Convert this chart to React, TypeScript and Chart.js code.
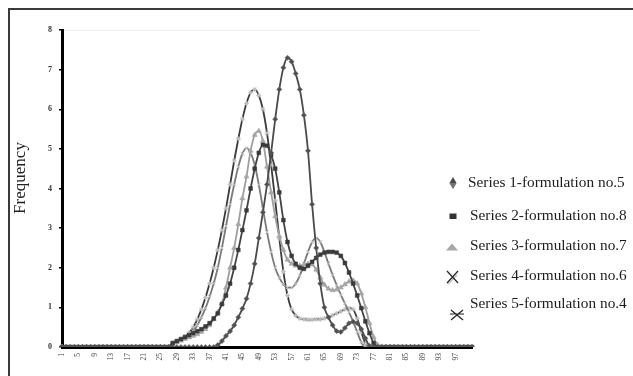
import React, { useEffect, useRef } from 'react';
import { Chart, registerables } from 'chart.js';

Chart.register(...registerables);

// Category labels 1..101 (ticks shown every 4th: 1, 5, 9, ... 97)
const categories: string[] = [
  '1','2','3','4','5','6','7','8','9','10','11','12','13','14','15','16','17','18','19','20',
  '21','22','23','24','25','26','27','28','29','30','31','32','33','34','35','36','37','38','39','40',
  '41','42','43','44','45','46','47','48','49','50','51','52','53','54','55','56','57','58','59','60',
  '61','62','63','64','65','66','67','68','69','70','71','72','73','74','75','76','77','78','79','80',
  '81','82','83','84','85','86','87','88','89','90','91','92','93','94','95','96','97','98','99','100','101',
];

const xTickLabels = ['1','5','9','13','17','21','25','29','33','37','41','45','49','53','57','61','65','69','73','77','81','85','89','93','97'];

const yTicks = [0, 1, 2, 3, 4, 5, 6, 7, 8];

const yAxisTitle = 'Frequency';

// Series values, one per category (1..101)
const series1: number[] = [
  0,0,0,0,0,0,0,0,0,0, 0,0,0,0,0,0,0,0,0,0, // 1-20
  0,0,0,0,0,0,0,0,0,0, 0,0,0,0,0,0,0,0,     // 21-38
  0.05,0.15,0.28,0.4,0.55,0.75,0.97,1.22,1.6,2.1,          // 39-48
  2.75,3.4,4.1,4.9,5.75,6.5,7.05,7.3,7.2,6.9,              // 49-58
  6.5,5.85,4.95,3.6,2.5,1.6,1.0,0.75,0.55,0.4,             // 59-68
  0.38,0.48,0.6,0.64,0.6,0.45,0.22,0.03,0,0,               // 69-78
  0,0,0,0,0,0,0,0,0,0, 0,0,0,0,0,0,0,0,0,0, 0,0,0,          // 79-101
];

const series2: number[] = [
  0,0,0,0,0,0,0,0,0,0, 0,0,0,0,0,0,0,0,0,0, 0,0,0,0,0,0,0, // 1-27
  0.1,0.15,0.2,0.25,0.3,0.35,0.4,0.45,0.52,0.6,            // 28-37
  0.72,0.85,1.08,1.3,1.6,2.0,2.45,2.95,3.45,4.0,           // 38-47
  4.5,4.9,5.1,5.08,4.85,4.5,3.9,3.2,2.65,2.3,              // 48-57
  2.1,2.0,1.97,2.05,2.15,2.25,2.33,2.38,2.4,2.4,           // 58-67
  2.38,2.3,2.12,1.88,1.6,1.3,0.98,0.65,0.35,0.1,           // 68-77
  0,0,0,0,0,0,0,0,0,0, 0,0,0,0,0,0,0,0,0,0, 0,0,0,0,       // 78-101
];

const series3: number[] = [
  0,0,0,0,0,0,0,0,0,0, 0,0,0,0,0,0,0,0,0,0, 0,0,0,0,0,0,0, // 1-27
  0.08,0.12,0.16,0.2,0.24,0.28,0.32,0.38,0.45,0.55,        // 28-37
  0.7,0.88,1.1,1.5,2.0,2.5,3.1,3.75,4.3,4.95,              // 38-47
  5.35,5.45,5.2,4.55,3.9,3.3,2.8,2.45,2.2,2.1,             // 48-57
  2.05,2.05,2.08,2.1,2.08,1.95,1.75,1.57,1.47,1.43,        // 58-67
  1.45,1.5,1.58,1.65,1.68,1.6,1.35,1.0,0.6,0.25,           // 68-77
  0.05,0,0,0,0,0,0,0,0,0, 0,0,0,0,0,0,0,0,0,0, 0,0,0,0,    // 78-101
];

const series4: number[] = [
  0,0,0,0,0,0,0,0,0,0, 0,0,0,0,0,0,0,0,0,0, 0,0,0,0,0,0,0, // 1-27
  0.1,0.14,0.19,0.25,0.32,0.4,0.55,0.75,0.98,1.27,         // 28-37
  1.6,2.0,2.5,3.05,3.6,4.1,4.55,4.88,5.02,4.9,             // 38-47
  4.6,4.1,3.5,2.9,2.4,2.0,1.75,1.58,1.5,1.5,               // 48-57
  1.6,1.8,2.1,2.4,2.65,2.75,2.65,2.4,2.1,1.82,             // 58-67
  1.56,1.32,1.1,0.88,0.64,0.38,0.12,0,0,0,                 // 68-77
  0,0,0,0,0,0,0,0,0,0, 0,0,0,0,0,0,0,0,0,0, 0,0,0,0,       // 78-101
];

const series5: number[] = [
  0,0,0,0,0,0,0,0,0,0, 0,0,0,0,0,0,0,0,0,0, 0,0,0,0,0,0,0, // 1-27
  0.1,0.15,0.2,0.27,0.36,0.5,0.7,0.95,1.25,1.6,            // 28-37
  2.0,2.45,2.95,3.5,4.1,4.7,5.25,5.75,6.15,6.42,           // 38-47
  6.5,6.35,6.0,5.4,4.6,3.7,2.75,1.9,1.3,0.95,              // 48-57
  0.8,0.72,0.7,0.69,0.69,0.7,0.7,0.72,0.75,0.8,            // 58-67
  0.85,0.9,0.95,0.98,0.95,0.72,0.38,0.08,0,0,              // 68-77
  0,0,0,0,0,0,0,0,0,0, 0,0,0,0,0,0,0,0,0,0, 0,0,0,0,       // 78-101
];

const seriesLabels = [
  'Series 1-formulation no.5',
  'Series 2-formulation no.8',
  'Series 3-formulation no.7',
  'Series 4-formulation no.6',
  'Series 5-formulation no.4',
];

const SERIF = '"Liberation Serif", "Times New Roman", serif';

function drawLegendMarker(ctx: CanvasRenderingContext2D, kind: number, x: number, y: number) {
  ctx.save();
  if (kind === 0) {
    ctx.fillStyle = '#4a4a4a';
    ctx.beginPath();
    ctx.moveTo(x, y - 6);
    ctx.lineTo(x + 3.5, y);
    ctx.lineTo(x, y + 6);
    ctx.lineTo(x - 3.5, y);
    ctx.closePath();
    ctx.fill();
    ctx.fillStyle = '#9a9a9a';
    ctx.beginPath();
    ctx.moveTo(x - 3.5, y);
    ctx.lineTo(x + 3.5, y);
    ctx.lineTo(x, y + 6);
    ctx.closePath();
    ctx.globalAlpha = 0.5;
    ctx.fill();
  } else if (kind === 1) {
    ctx.fillStyle = '#333';
    ctx.fillRect(x - 3.5, y - 2.5, 7, 5.5);
  } else if (kind === 2) {
    ctx.fillStyle = '#a8a8a8';
    ctx.beginPath();
    ctx.moveTo(x - 6, y + 3.5);
    ctx.lineTo(x, y - 3.5);
    ctx.lineTo(x + 6, y + 3.5);
    ctx.closePath();
    ctx.fill();
  } else if (kind === 3) {
    ctx.strokeStyle = '#bbb';
    ctx.lineWidth = 1.2;
    ctx.beginPath();
    ctx.moveTo(x - 4, y + 7);
    ctx.lineTo(x + 5, y - 2);
    ctx.stroke();
    ctx.strokeStyle = '#222';
    ctx.beginPath();
    ctx.moveTo(x - 5, y - 6);
    ctx.lineTo(x + 6, y + 6);
    ctx.moveTo(x - 5, y + 6);
    ctx.lineTo(x + 6, y - 6);
    ctx.stroke();
  } else {
    ctx.strokeStyle = '#222';
    ctx.lineWidth = 1.2;
    ctx.beginPath();
    ctx.moveTo(x - 6, y - 5);
    ctx.lineTo(x + 6, y + 5);
    ctx.moveTo(x - 6, y + 5);
    ctx.lineTo(x + 6, y - 5);
    ctx.moveTo(x - 7, y - 1);
    ctx.lineTo(x + 7, y - 1);
    ctx.stroke();
  }
  ctx.restore();
}

const framePlugin = {
  id: 'frameAndLegend',
  beforeDraw(chart: any) {
    const { ctx, chartArea } = chart;
    ctx.save();
    ctx.fillStyle = '#fff';
    ctx.fillRect(0, 0, chart.width, chart.height);
    // outer frame (left and top)
    ctx.strokeStyle = '#3a3a3a';
    ctx.lineWidth = 2;
    ctx.beginPath();
    ctx.moveTo(9, chart.height);
    ctx.lineTo(9, 9);
    ctx.lineTo(chart.width, 9);
    ctx.stroke();
    // faint plot top border
    ctx.strokeStyle = '#ececec';
    ctx.lineWidth = 1;
    ctx.beginPath();
    ctx.moveTo(chartArea.left, chartArea.top + 0.5);
    ctx.lineTo(chartArea.right + 8, chartArea.top + 0.5);
    ctx.stroke();
    // y-axis title
    ctx.translate(21, 178);
    ctx.rotate(-Math.PI / 2);
    ctx.font = '17px ' + SERIF;
    ctx.fillStyle = '#222';
    ctx.textAlign = 'center';
    ctx.textBaseline = 'middle';
    ctx.fillText(yAxisTitle, 0, 0);
    ctx.restore();
  },
  afterDraw(chart: any) {
    const { ctx } = chart;
    const rows = [
      { mx: 453, my: 183, tx: 468, ty: 183 },
      { mx: 453, my: 216, tx: 470, ty: 216 },
      { mx: 452, my: 247, tx: 470, ty: 246 },
      { mx: 452, my: 277, tx: 470, ty: 276 },
      { mx: 457, my: 315, tx: 470, ty: 304 },
    ];
    ctx.save();
    ctx.font = '15.3px ' + SERIF;
    ctx.fillStyle = '#1c1c1c';
    ctx.textBaseline = 'middle';
    ctx.textAlign = 'left';
    chart.data.datasets.forEach((ds: any, i: number) => {
      const r = rows[i];
      drawLegendMarker(ctx, i, r.mx, r.my);
      ctx.fillText(ds.label, r.tx, r.ty);
    });
    ctx.restore();
  },
};

export default function App() {
  const ref = useRef<HTMLCanvasElement | null>(null);

  useEffect(() => {
    if (!ref.current) return;
    const common = {
      fill: false,
      cubicInterpolationMode: 'monotone' as const,
      borderWidth: 1.8,
    };
    const chart = new Chart(ref.current, {
      type: 'line',
      data: {
        labels: categories,
        datasets: [
          {
            ...common,
            label: seriesLabels[0],
            data: series1,
            borderColor: '#4a4a4a',
            pointStyle: 'rectRot',
            pointRadius: 2.6,
            pointBackgroundColor: '#505050',
            pointBorderColor: '#6a6a6a',
            pointBorderWidth: 0.5,
          },
          {
            ...common,
            label: seriesLabels[1],
            data: series2,
            borderColor: '#444',
            pointStyle: 'rect',
            pointRadius: 2.7,
            pointBackgroundColor: '#3a3a3a',
            pointBorderColor: '#3a3a3a',
            pointBorderWidth: 0.5,
          },
          {
            ...common,
            label: seriesLabels[2],
            data: series3,
            borderColor: '#9e9e9e',
            pointStyle: 'triangle',
            pointRadius: 3,
            pointBackgroundColor: '#a6a6a6',
            pointBorderColor: '#a6a6a6',
            pointBorderWidth: 0.5,
          },
          {
            ...common,
            label: seriesLabels[3],
            data: series4,
            borderColor: '#7a7a7a',
            pointStyle: 'crossRot',
            pointRadius: 2.5,
            pointBackgroundColor: '#c4c4c4',
            pointBorderColor: '#c4c4c4',
            pointBorderWidth: 1,
          },
          {
            ...common,
            label: seriesLabels[4],
            data: series5,
            borderColor: '#3a3a3a',
            pointStyle: 'star',
            pointRadius: 2.5,
            pointBackgroundColor: '#c0c0c0',
            pointBorderColor: '#c0c0c0',
            pointBorderWidth: 1,
          },
        ],
      },
      options: {
        responsive: false,
        animation: false,
        devicePixelRatio: 1,
        layout: { padding: { left: 0, top: 30, right: 161, bottom: 0 } },
        plugins: {
          legend: { display: false },
          tooltip: { enabled: false },
        },
        scales: {
          x: {
            type: 'category',
            offset: false,
            grid: { display: false, drawTicks: false },
            border: { display: true, color: '#000', width: 3 },
            ticks: {
              autoSkip: false,
              maxRotation: 90,
              minRotation: 90,
              padding: 6,
              color: '#444',
              font: { family: SERIF, size: 7.5 },
              callback: (_v: any, i: number) =>
                xTickLabels.includes(categories[i]) ? categories[i] : '',
            },
            afterFit: (scale: any) => {
              scale.height = 29;
            },
          },
          y: {
            min: 0,
            max: 8,
            afterBuildTicks: (scale: any) => {
              scale.ticks = yTicks.map((v) => ({ value: v }));
            },
            grid: {
              display: true,
              drawOnChartArea: false,
              drawTicks: true,
              tickLength: 3,
              color: '#000',
              lineWidth: 1.5,
            },
            border: { display: true, color: '#000', width: 3 },
            ticks: {
              padding: 7,
              color: '#333',
              font: { family: SERIF, size: 8, weight: 'bold' },
            },
            afterFit: (scale: any) => {
              scale.width = 62;
            },
          },
        },
      },
      plugins: [framePlugin],
    });
    return () => chart.destroy();
  }, []);

  return (
    <div style={{ position: 'fixed', left: 0, top: 0, width: 633, height: 376, background: '#fff' }}>
      <canvas ref={ref} width={633} height={376} style={{ display: 'block', width: 633, height: 376 }} />
    </div>
  );
}
